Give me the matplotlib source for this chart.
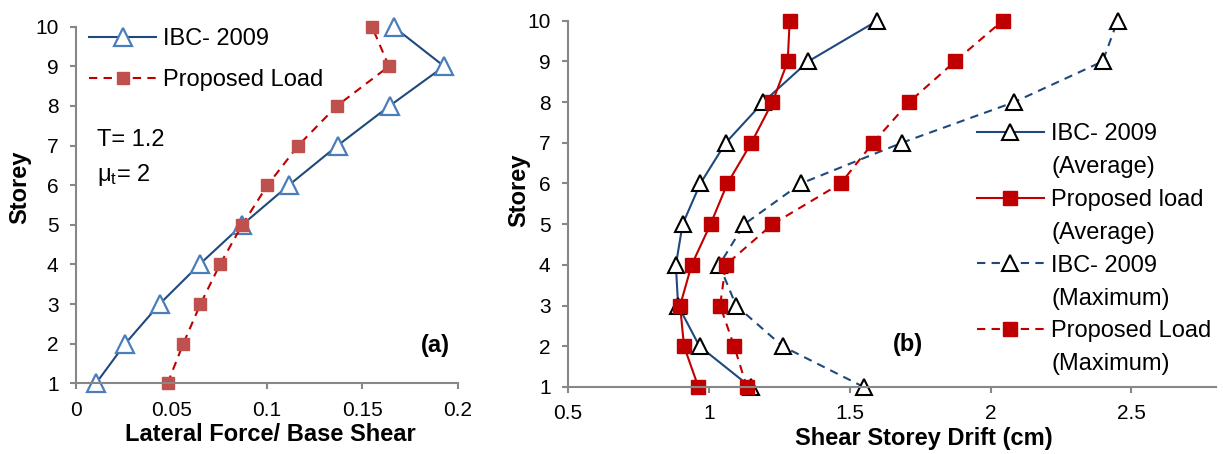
import matplotlib
matplotlib.use("Agg")
import matplotlib.pyplot as plt
from matplotlib.lines import Line2D
from matplotlib import font_manager

# storeys 1..10
storey = [1, 2, 3, 4, 5, 6, 7, 8, 9, 10]

# (a) lateral force / base shear
ibc_force = [0.0105, 0.0258, 0.0438, 0.0647, 0.0871, 0.1115, 0.137, 0.1642, 0.1928, 0.1663]
prop_force = [0.048, 0.0562, 0.0652, 0.0754, 0.0871, 0.1003, 0.1164, 0.1366, 0.1639, 0.155]

# (b) shear storey drift (cm)
ibc_avg = [1.148, 0.967, 0.891, 0.883, 0.907, 0.970, 1.060, 1.193, 1.353, 1.598]
prop_avg = [0.963, 0.912, 0.898, 0.939, 1.006, 1.066, 1.151, 1.226, 1.280, 1.287]
ibc_max = [1.550, 1.262, 1.097, 1.037, 1.126, 1.327, 1.685, 2.084, 2.398, 2.451]
prop_max = [1.135, 1.090, 1.040, 1.060, 1.226, 1.468, 1.583, 1.711, 1.874, 2.043]

xticks_a = [0, 0.05, 0.1, 0.15, 0.2]
xticklabels_a = ["0", "0.05", "0.1", "0.15", "0.2"]
xticks_b = [0.5, 1, 1.5, 2, 2.5]
xticklabels_b = ["0.5", "1", "1.5", "2", "2.5"]

names = {f.name for f in font_manager.fontManager.ttflist}
font = "Liberation Sans" if "Liberation Sans" in names else "DejaVu Sans"
plt.rcParams["font.family"] = [font, "DejaVu Sans"]
plt.rcParams["mathtext.fontset"] = "custom"
plt.rcParams["mathtext.rm"] = font

NAVY = "#1F497D"
LBLUE = "#4A7EBB"
RED = "#C00000"
PINK = "#C0504D"
GRAY = "#878787"

fig = plt.figure(figsize=(12.23, 4.54), dpi=100)
ax1 = fig.add_axes([0.0621, 0.1557, 0.3123, 0.7855])
ax2 = fig.add_axes([0.4644, 0.1476, 0.5298, 0.8068])


def style(ax):
    for s in ["top", "right"]:
        ax.spines[s].set_visible(False)
    for s in ["left", "bottom"]:
        ax.spines[s].set_color(GRAY)
        ax.spines[s].set_linewidth(1.5)
    ax.tick_params(axis="both", colors=GRAY, labelcolor="black", labelsize=15,
                   width=1.5, length=4.5, pad=8, direction="out")
    ax.set_ylim(1, 10)
    ax.set_yticks(storey)
    ax.set_ylabel("Storey", fontsize=17, fontweight="bold")


# ---- (a)
style(ax1)
ax1.plot(ibc_force, storey, color=NAVY, lw=1.5, marker="^", ms=13,
         mfc="white", mec=LBLUE, mew=1.6, clip_on=False, label="IBC- 2009")
ax1.plot(prop_force, storey, color=RED, lw=1.5, ls=(0, (4, 3)), marker="s", ms=8,
         mfc=PINK, mec=PINK, clip_on=False, label="Proposed Load")
ax1.set_xlim(0, 0.2)
ax1.set_xticks(xticks_a)
ax1.set_xticklabels(xticklabels_a)
ax1.set_xlabel("Lateral Force/ Base Shear", fontsize=17, fontweight="bold")
ax1.xaxis.set_label_coords(0.508, -0.112)
ax1.yaxis.set_label_coords(-0.116, 0.55)
ax1.legend(loc="upper left", bbox_to_anchor=(0.034, 0.996), frameon=False, fontsize=17,
           borderpad=0, borderaxespad=0, handlelength=2.85, handletextpad=0.3,
           labelspacing=0.81)
ax1.text(0.055, 0.683, "T= 1.2", transform=ax1.transAxes, fontsize=17, va="center")
ax1.text(0.055, 0.585, r"$\mathregular{μ_t}$= 2", transform=ax1.transAxes, fontsize=17, va="center")
ax1.text(0.94, 0.107, "(a)", transform=ax1.transAxes, fontsize=17, fontweight="bold",
         ha="center", va="center")

# ---- (b)
style(ax2)
tri = dict(marker="^", ms=12, mfc="white", mec="black", mew=1.5, clip_on=False)
sq = dict(marker="s", ms=9.5, mfc=RED, mec=RED, clip_on=False)
l1, = ax2.plot(ibc_avg, storey, color=NAVY, lw=1.5, **tri)
l2, = ax2.plot(prop_avg, storey, color=RED, lw=1.5, **sq)
l3, = ax2.plot(ibc_max, storey, color=NAVY, lw=1.5, ls=(0, (4, 3)), **tri)
l4, = ax2.plot(prop_max, storey, color=RED, lw=1.5, ls=(0, (4, 3)), **sq)
ax2.set_xlim(0.5, 2.8)
ax2.set_xticks(xticks_b)
ax2.set_xticklabels(xticklabels_b)
ax2.set_xlabel("Shear Storey Drift (cm)", fontsize=17, fontweight="bold")
ax2.xaxis.set_label_coords(0.549, -0.108)
ax2.yaxis.set_label_coords(-0.0586, 0.538)
blank = Line2D([], [], ls="none", marker="none")
ax2.legend([l1, blank, l2, blank, l3, blank, l4, blank],
           ["IBC- 2009", "(Average)", "Proposed load", "(Average)",
            "IBC- 2009", "(Maximum)", "Proposed Load", "(Maximum)"],
           loc="upper left", bbox_to_anchor=(0.631, 0.72), frameon=False, fontsize=17,
           borderpad=0, borderaxespad=0, handlelength=2.85, handletextpad=0.3,
           labelspacing=0.46)
ax2.text(0.524, 0.115, "(b)", transform=ax2.transAxes, fontsize=17, fontweight="bold",
         ha="center", va="center")

fig.savefig("out.png", dpi=100)
